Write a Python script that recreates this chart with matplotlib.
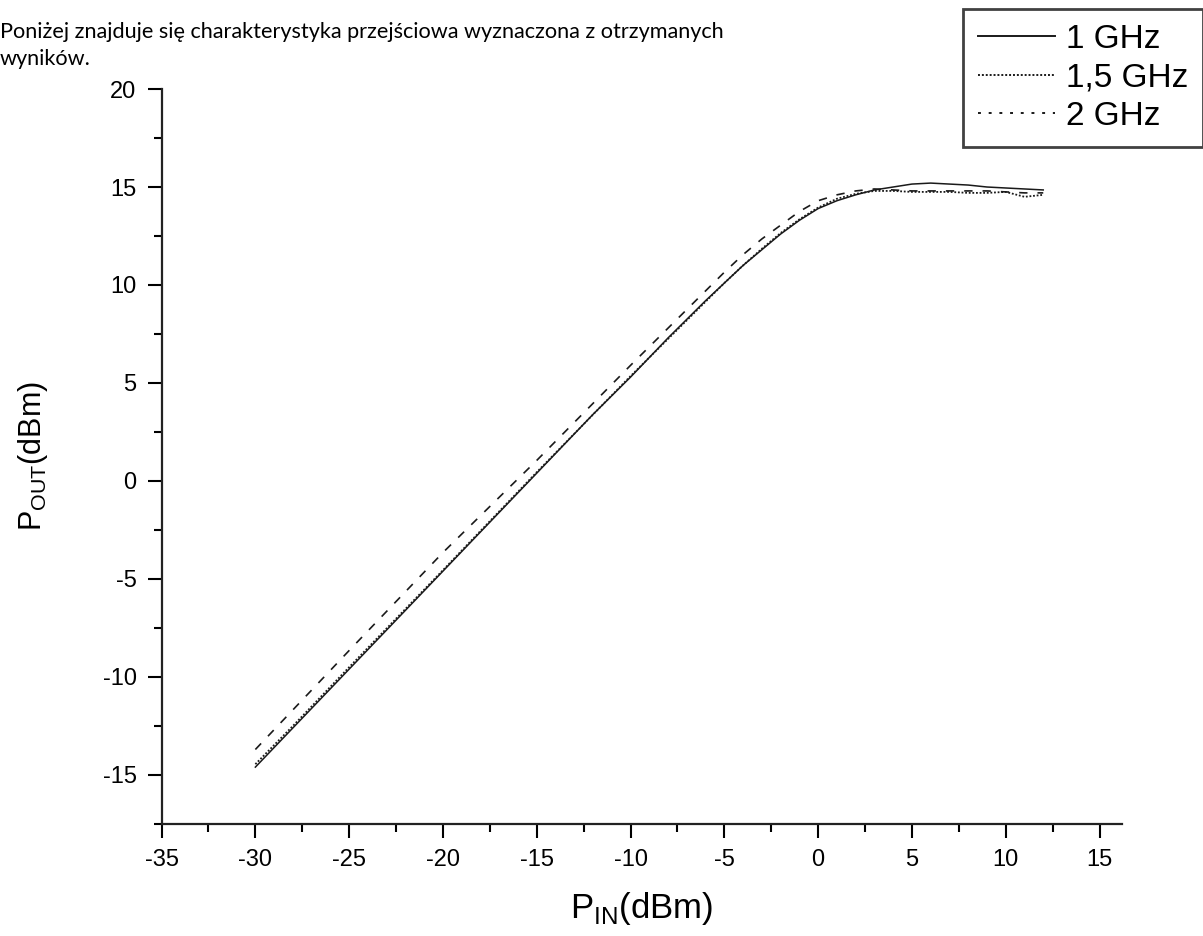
import matplotlib
matplotlib.use("Agg")
import matplotlib.pyplot as plt
from matplotlib.lines import Line2D
from matplotlib.ticker import MultipleLocator

plt.rcParams['font.family'] = ['Liberation Sans', 'DejaVu Sans']
plt.rcParams['axes.unicode_minus'] = False

# odczyty z wykresu: P_IN (dBm) -> P_OUT (dBm)
pin_1ghz = [-30, -28, -26, -24, -22, -20, -18, -16, -14, -12, -10, -8, -6, -5, -4, -3, -2, -1,
            0, 1, 2, 3, 4, 5, 6, 7, 8, 9, 10, 11, 12]
pout_1ghz = [-14.6, -12.6, -10.6, -8.6, -6.6, -4.6, -2.6, -0.6, 1.4, 3.4, 5.3, 7.3, 9.2, 10.1, 11.0,
             11.8, 12.6, 13.3, 13.9, 14.3, 14.6, 14.85, 15.0, 15.15, 15.2, 15.15, 15.1, 15.0, 14.95,
             14.9, 14.85]

pin_15ghz = [-30, -28, -25, -20, -15, -10, -5, -4, -3, -2, -1, 0, 1, 2, 3, 4, 5, 6, 7, 8, 9, 10,
             11, 12]
pout_15ghz = [-14.45, -12.5, -9.5, -4.55, 0.45, 5.35, 10.1, 11.0, 11.85, 12.65, 13.35, 13.95, 14.4,
              14.65, 14.8, 14.8, 14.75, 14.75, 14.75, 14.7, 14.7, 14.75, 14.5, 14.6]

pin_2ghz = [-30, -25, -20, -15, -10, -5, -4, -3, -2, -1, 0, 1, 2, 3, 4, 5, 6, 7, 8, 9, 10, 11, 12]
pout_2ghz = [-13.7, -8.65, -3.65, 1.05, 5.9, 10.65, 11.55, 12.35, 13.05, 13.75, 14.3, 14.6, 14.8,
             14.9, 14.85, 14.8, 14.8, 14.8, 14.8, 14.8, 14.75, 14.7, 14.7]

labels = ['1 GHz', '1,5 GHz', '2 GHz']

fig = plt.figure(figsize=(12.03, 9.36), dpi=100)
ax = fig.add_axes([0.1343, 0.1197, 0.7984, 0.7852])

ax.plot(pin_1ghz, pout_1ghz, color='#1a1a1a', lw=1.1, linestyle='-')
ax.plot(pin_15ghz, pout_15ghz, color='#1a1a1a', lw=1.3, linestyle=(0, (1, 1)))
ax.plot(pin_2ghz, pout_2ghz, color='#1a1a1a', lw=1.2, linestyle=(0, (5, 6)))

ax.set_xlim(-35, 16.2)
ax.set_ylim(-17.5, 20)
ax.xaxis.set_major_locator(MultipleLocator(5))
ax.xaxis.set_minor_locator(MultipleLocator(2.5))
ax.yaxis.set_major_locator(MultipleLocator(5))
ax.yaxis.set_minor_locator(MultipleLocator(2.5))

for s in ['top', 'right']:
    ax.spines[s].set_visible(False)
for s in ['left', 'bottom']:
    ax.spines[s].set_linewidth(1.6)
    ax.spines[s].set_color('#222222')

ax.tick_params(which='major', direction='out', length=10, width=1.5, labelsize=17, pad=8)
ax.tick_params(which='minor', direction='out', length=5.5, width=1.5)

ax.set_xlabel(r'P$_{\mathregular{IN}}$(dBm)', fontsize=25, labelpad=14)
ax.set_ylabel(r'P$_{\mathregular{OUT}}$(dBm)', fontsize=22, labelpad=38)

handles = [Line2D([], [], color='#1a1a1a', lw=1.4, linestyle='-'),
           Line2D([], [], color='#1a1a1a', lw=1.4, linestyle=(0, (1, 1))),
           Line2D([], [], color='#1a1a1a', lw=1.4, linestyle=(0, (1.5, 4)))]
leg = fig.legend(handles, labels, loc='upper left', bbox_to_anchor=(963 / 1203, 1 - 9 / 936),
                 fontsize=24, frameon=True, fancybox=False, handlelength=2.3, handletextpad=0.33,
                 borderpad=0.45, labelspacing=0.22, borderaxespad=0)
leg.get_frame().set_edgecolor('#111111')
leg.get_frame().set_linewidth(2.0)

fig.text(0.0, 1 - 38 / 936, 'Poniżej znajduje się charakterystyka przejściowa wyznaczona z otrzymanych',
         fontsize=15.6, family=['Lato', 'DejaVu Sans'], va='baseline', ha='left')
fig.text(0.0, 1 - 65 / 936, 'wyników.', fontsize=15.6, family=['Lato', 'DejaVu Sans'],
         va='baseline', ha='left')

fig.savefig('out.png', dpi=100)
